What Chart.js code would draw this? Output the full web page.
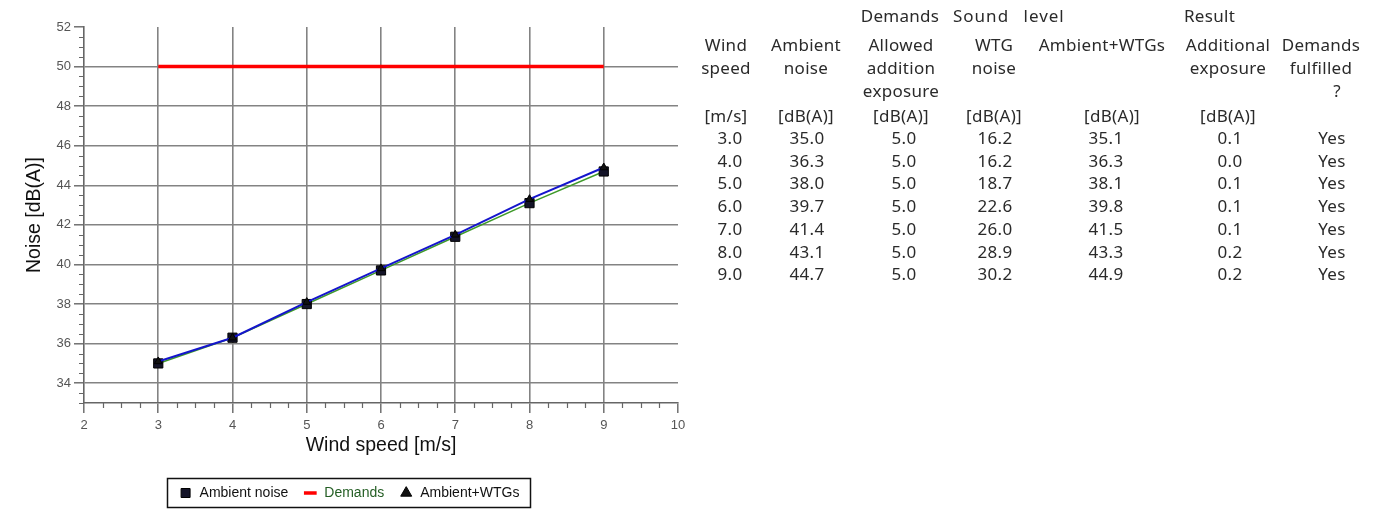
<!DOCTYPE html>
<html><head><meta charset="utf-8">
<script src="https://cdn.jsdelivr.net/npm/chart.js@4"></script>
<style>
html,body{margin:0;padding:0;background:#fff;width:1385px;height:518px;overflow:hidden;}
#wrap{position:absolute;left:0;top:0;width:700px;height:518px;}
#tbl{position:absolute;left:0;top:0;width:1385px;height:518px;font-family:"Noto Sans",sans-serif;font-size:17px;letter-spacing:0.3px;color:#2a2a2a;pointer-events:none;}
.t{position:absolute;white-space:nowrap;transform:translate(-50%,-50%);line-height:1;}
.l{position:absolute;white-space:nowrap;transform:translate(0,-50%);line-height:1;}
.wide{word-spacing:9px;letter-spacing:1px;}
</style></head><body>
<div id="wrap"><canvas id="c" width="700" height="518"></canvas></div>
<div id="tbl"></div>
<script>
// ---- data ----
const windSpeed = [3, 4, 5, 6, 7, 8, 9];
const ambientNoise = [35.0, 36.3, 38.0, 39.7, 41.4, 43.1, 44.7];
const demandLimit = [50, 50, 50, 50, 50, 50, 50];
const ambientPlusWtgs = [35.1, 36.3, 38.1, 39.8, 41.5, 43.3, 44.9];
const allowedAddition = [5.0, 5.0, 5.0, 5.0, 5.0, 5.0, 5.0];
const wtgNoise = [16.2, 16.2, 18.7, 22.6, 26.0, 28.9, 30.2];
const additionalExposure = [0.1, 0.0, 0.1, 0.1, 0.1, 0.2, 0.2];
const demandsFulfilled = ['Yes', 'Yes', 'Yes', 'Yes', 'Yes', 'Yes', 'Yes'];
const xTicks = [2, 3, 4, 5, 6, 7, 8, 9, 10];
const yTicks = [34, 36, 38, 40, 42, 44, 46, 48, 50, 52];
const seriesLabels = ['Ambient noise', 'Demands', 'Ambient+WTGs'];
const groupHeaders = ['Demands', 'Sound level', 'Result'];
const columnHeaders = [
  ['Wind', 'speed'],
  ['Ambient', 'noise'],
  ['Allowed', 'addition', 'exposure'],
  ['WTG', 'noise'],
  ['Ambient+WTGs'],
  ['Additional', 'exposure'],
  ['Demands', 'fulfilled', '?']
];
const columnUnits = ['[m/s]', '[dB(A)]', '[dB(A)]', '[dB(A)]', '[dB(A)]', '[dB(A)]', ''];

// ---- table (layout) ----
const tbl = document.getElementById('tbl');
function put(text, x, y, cls) {
  const d = document.createElement('div');
  d.className = cls; d.textContent = text;
  d.style.left = x + 'px'; d.style.top = y + 'px';
  tbl.appendChild(d);
}
const colX = [726, 806, 901, 994, 1102, 1228, 1321];
const dataColX = [730, 807, 904, 995, 1106, 1230, 1332];
const groupPos = [{x: 900, c: 't'}, {x: 953, c: 'l wide'}, {x: 1184, c: 'l'}];
groupHeaders.forEach((g, i) => put(g, groupPos[i].x, 15, groupPos[i].c));
const headY = [44, 67, 90];
columnHeaders.forEach((lines, c) => lines.forEach((s, k) => put(s, (s === '?' ? 1337 : colX[c]), headY[k], 't')));
columnUnits.forEach((u, c) => { if (u) put(u, colX[c] + (c === 4 ? 10 : 0), 115, 't'); });
const cols = [
  windSpeed.map(v => v.toFixed(1)),
  ambientNoise.map(v => v.toFixed(1)),
  allowedAddition.map(v => v.toFixed(1)),
  wtgNoise.map(v => v.toFixed(1)),
  ambientPlusWtgs.map(v => v.toFixed(1)),
  additionalExposure.map(v => v.toFixed(1)),
  demandsFulfilled
];
cols.forEach((col, c) => col.forEach((s, r) => put(s, dataColX[c], 137 + r * 22.7, 't')));

// ---- chart ----
const toXY = ys => windSpeed.map((x, i) => ({x, y: ys[i]}));
const legendTextColors = {'Demands': '#245e24'};

const minorTicks = {
  id: 'minorTicks',
  afterDraw(chart) {
    const {ctx} = chart; const x = chart.scales.x, y = chart.scales.y;
    ctx.save(); ctx.strokeStyle = '#666'; ctx.lineWidth = 1.2;
    ctx.beginPath();
    for (let k = x.min * 4; k <= x.max * 4; k++) {
      if (k % 4 === 0) continue;
      const px = Math.round(x.getPixelForValue(k / 4)) + 0.5;
      ctx.moveTo(px, y.bottom); ctx.lineTo(px, y.bottom + 5);
    }
    for (let k = y.min * 2; k <= y.max * 2; k++) {
      if (k % 4 === 0) continue;
      const py = Math.round(y.getPixelForValue(k / 2)) + 0.5;
      ctx.moveTo(x.left - 5, py); ctx.lineTo(x.left, py);
    }
    ctx.stroke(); ctx.restore();
  }
};
const legendShift = {
  id: 'legendShift',
  afterLayout(chart) {
    const lg = chart.legend; if (!lg) return;
    lg.left += 10; lg.right += 10;
  }
};
const legendBox = {
  id: 'legendBox',
  afterDraw(chart) {
    const hb = chart.legend && chart.legend.legendHitBoxes; if (!hb || !hb.length) return;
    const l = Math.min(...hb.map(h => h.left)) - 12;
    const r = Math.max(...hb.map(h => h.left + h.width)) + 10;
    const t = hb[0].top - 8, b = hb[0].top + hb[0].height + 7;
    const ctx = chart.ctx; ctx.save(); ctx.strokeStyle = '#111'; ctx.lineWidth = 1.5;
    ctx.strokeRect(Math.round(l) + 0.5, Math.round(t) + 0.5, Math.round(r - l), Math.round(b - t));
    ctx.restore();
  }
};

new Chart(document.getElementById('c'), {
  type: 'line',
  data: {
    datasets: [
      {label: seriesLabels[0], data: toXY(ambientNoise), borderColor: '#3f9a2a', backgroundColor: '#3f9a2a', borderWidth: 1.5,
        pointStyle: 'rect', pointRadius: 6.5, pointBackgroundColor: '#141428', pointBorderColor: '#000', pointBorderWidth: 1, order: 2},
      {label: seriesLabels[1], data: toXY(demandLimit), borderColor: '#ff0000', backgroundColor: '#ff0000', borderWidth: 3.5,
        pointStyle: 'line', pointRadius: 0, pointBorderWidth: 3.5, order: 3},
      {label: seriesLabels[2], data: toXY(ambientPlusWtgs), borderColor: '#1515cc', backgroundColor: '#1515cc', borderWidth: 2,
        pointStyle: 'triangle', pointRadius: 4.5, pointBackgroundColor: '#111', pointBorderColor: '#000', pointBorderWidth: 1, order: 1}
    ]
  },
  options: {
    responsive: false, animation: false, devicePixelRatio: 1,
    layout: {padding: {left: 0, top: 27, right: 22, bottom: 8}},
    plugins: {
      tooltip: {enabled: false},
      legend: {
        position: 'bottom',
        labels: {
          usePointStyle: true, boxWidth: 14, boxHeight: 9, padding: 15,
          color: '#111', font: {family: '"Liberation Sans", Arial, sans-serif', size: 14},
          sort: (a, b) => a.datasetIndex - b.datasetIndex,
          generateLabels(chart) {
            const items = Chart.defaults.plugins.legend.labels.generateLabels(chart);
            items.forEach(it => { const c = legendTextColors[it.text]; if (c) it.fontColor = c; });
            return items;
          }
        }
      }
    },
    scales: {
      x: {
        type: 'linear', min: 2, max: 10,
        afterBuildTicks: s => { s.ticks = xTicks.map(v => ({value: v})); },
        afterFit: s => { s.height = 68; },
        grid: {
          color: c => (c.tick && (c.tick.value === 2 || c.tick.value === 10)) ? 'rgba(0,0,0,0)' : '#838383',
          lineWidth: 1.6, tickLength: 10, tickColor: '#666', tickWidth: 1.4
        },
        border: {display: true, color: '#666', width: 1.6},
        ticks: {color: '#555', font: {family: '"Liberation Sans", Arial, sans-serif', size: 13}, padding: 5, maxRotation: 0, autoSkip: false},
        title: {display: true, text: 'Wind speed [m/s]', color: '#111', font: {family: '"Liberation Sans", Arial, sans-serif', size: 19.5}, padding: {top: 0, bottom: 13.3}}
      },
      y: {
        type: 'linear', min: 33, max: 52,
        afterBuildTicks: s => { s.ticks = yTicks.map(v => ({value: v})); },
        afterFit: s => { s.width = 84; },
        grid: {
          color: c => (c.tick && c.tick.value === 52) ? 'rgba(0,0,0,0)' : '#838383',
          lineWidth: 1.6, tickLength: 10, tickColor: '#666', tickWidth: 1.4
        },
        border: {display: true, color: '#666', width: 1.6},
        ticks: {color: '#555', font: {family: '"Liberation Sans", Arial, sans-serif', size: 13}, padding: 3},
        title: {display: true, text: 'Noise [dB(A)]', color: '#111', font: {family: '"Liberation Sans", Arial, sans-serif', size: 19.5}, padding: {top: 23.3, bottom: 0}}
      }
    }
  },
  plugins: [minorTicks, legendShift, legendBox]
});
</script>
</body></html>
